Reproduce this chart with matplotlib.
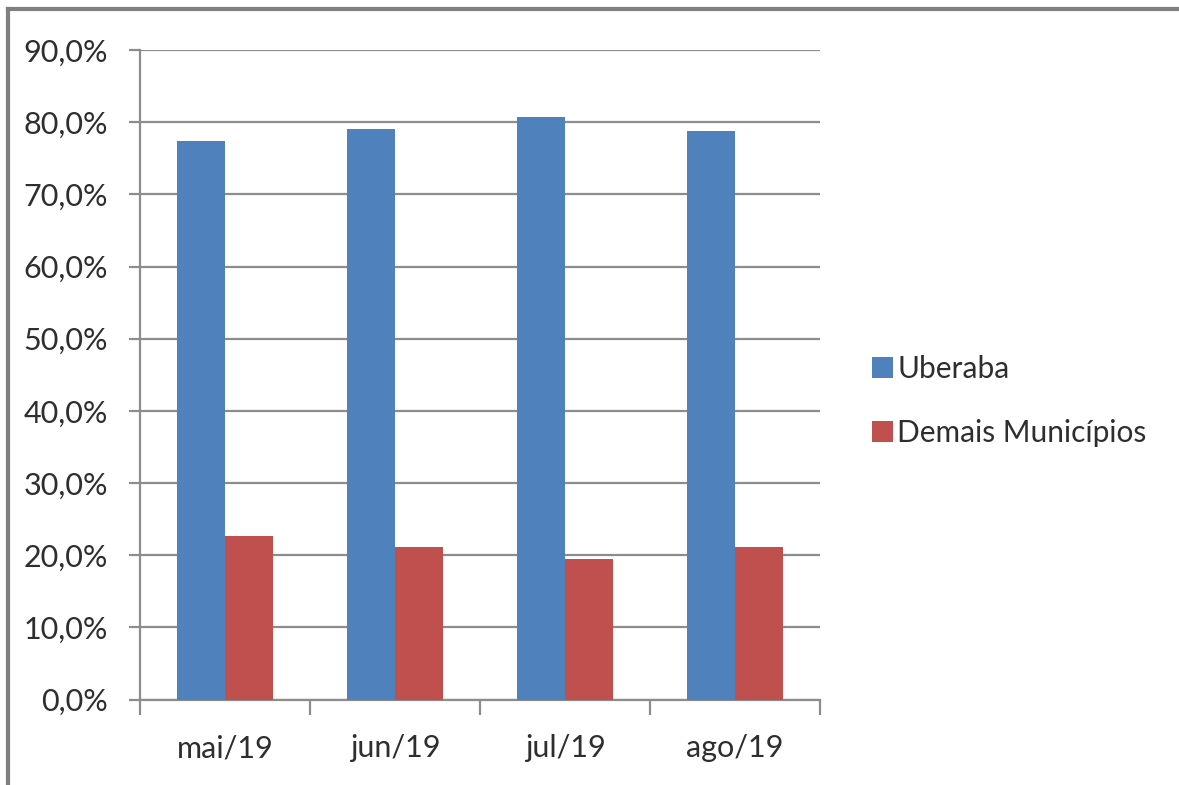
import numpy as np
from matplotlib import pyplot as plt
from matplotlib.lines import Line2D
from matplotlib.ticker import FuncFormatter, FixedLocator

# data
months   = ['mai/19', 'jun/19', 'jul/19', 'ago/19']
uberaba  = [77.4, 79.0, 80.7, 78.8]
demais   = [22.7, 21.2, 19.4, 21.2]
series_names = ['Uberaba', 'Demais Municípios']

blue = '#4F81BD'
red  = '#C0504D'
grid = '#8C8C8C'
txt  = '#2e2e2e'

plt.rcParams['font.family'] = ['Lato', 'DejaVu Sans']

fig = plt.figure(figsize=(11.79, 7.85), dpi=100)
ax = fig.add_axes([140/1179., 1 - 699.5/785., 680/1179., 649.5/785.])

x = np.arange(len(months))
width = 0.285
ax.bar(x - width/2, uberaba, width, color=blue, label=series_names[0], zorder=3)
ax.bar(x + width/2, demais,  width, color=red,  label=series_names[1], zorder=3)

ax.set_xlim(-0.5, len(months) - 0.5)
ax.set_ylim(0, 90)
ax.set_yticks(np.arange(0, 91, 10))
ax.yaxis.set_major_formatter(FuncFormatter(lambda v, p: '{:.1f}%'.format(v).replace('.', ',')))
ax.yaxis.grid(True, color=grid, lw=1.6, zorder=0)

# category labels centred, tick marks between categories
ax.set_xticks(x)
ax.set_xticklabels(months)
ax.xaxis.set_minor_locator(FixedLocator(np.arange(-0.5, len(months), 1.0)))
ax.tick_params(axis='x', which='major', length=0, pad=25, labelsize=22, labelcolor=txt)
ax.tick_params(axis='x', which='minor', length=11, width=1.6, color=grid)
ax.tick_params(axis='y', length=8, width=1.6, color=grid, pad=15, labelsize=22, labelcolor=txt)

for side in ['top', 'right']:
    ax.spines[side].set_visible(False)
for side in ['left', 'bottom']:
    ax.spines[side].set_color(grid)
    ax.spines[side].set_linewidth(1.6)

leg = fig.legend(loc='center left', bbox_to_anchor=(860/1179., 1 - 401/785.),
                 frameon=False, fontsize=21.5, handlelength=0.7, handleheight=0.7,
                 handletextpad=0.15, labelspacing=1.2, borderaxespad=0)
for t in leg.get_texts():
    t.set_color(txt)

# outer frame (top and left edges only)
fig.add_artist(Line2D([8/1179., 1.0], [1 - 9/785., 1 - 9/785.], transform=fig.transFigure,
                      color='#7F7F7F', lw=3))
fig.add_artist(Line2D([8/1179., 8/1179.], [0.0, 1 - 9/785.], transform=fig.transFigure,
                      color='#7F7F7F', lw=3))

fig.savefig('out.png', dpi=100)
